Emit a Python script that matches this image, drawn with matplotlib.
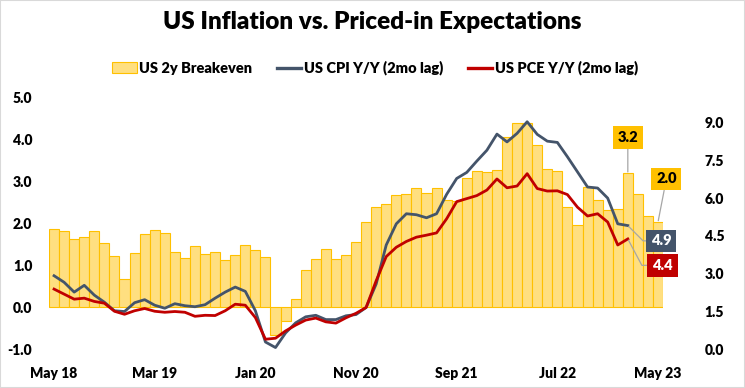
import matplotlib
matplotlib.use("Agg")
import matplotlib.pyplot as plt
from matplotlib.patches import Patch, Rectangle
from matplotlib.lines import Line2D
import numpy as np

plt.rcParams['font.family'] = ['Lato', 'DejaVu Sans']
plt.rcParams['font.weight'] = 'bold'

# ---- data ----
tick_labels = ["May 18", "Mar 19", "Jan 20", "Nov 20", "Sep 21", "Jul 22", "May 23"]
tick_index = [0, 10, 20, 30, 40, 50, 60]

breakeven = [1.86, 1.81, 1.62, 1.67, 1.81, 1.52, 1.21, 0.67, 1.29, 1.74,
             1.83, 1.76, 1.31, 1.17, 1.45, 1.26, 1.31, 1.12, 1.24, 1.48,
             1.36, 1.19, -0.67, -0.33, 0.19, 0.88, 1.14, 1.40, 1.14, 1.24,
             1.55, 2.02, 2.40, 2.45, 2.67, 2.69, 2.83, 2.71, 2.83, 2.55,
             2.52, 3.07, 3.24, 3.21, 3.26, 4.05, 4.40, 4.40, 3.86, 3.29,
             3.24, 2.40, 1.97, 2.86, 2.55, 2.31, 2.33, 3.19, 2.69, 2.17,
             2.03]

cpi = [2.92, 2.66, 2.27, 2.54, 2.15, 1.87, 1.53, 1.50, 1.85, 1.97,
       1.75, 1.63, 1.81, 1.73, 1.69, 1.77, 2.03, 2.27, 2.47, 2.30,
       1.53, 0.29, 0.07, 0.65, 1.05, 1.29, 1.35, 1.18, 1.18, 1.33,
       1.38, 1.66, 2.59, 4.14, 4.98, 5.38, 5.34, 5.22, 5.38, 6.15,
       6.78, 7.02, 7.47, 7.90, 8.54, 8.23, 8.57, 9.03, 8.53, 8.26,
       8.21, 7.64, 7.04, 6.44, 6.40, 6.00, 4.98, 4.91]

pce = [2.39, 2.19, 1.99, 2.03, 1.90, 1.83, 1.51, 1.39, 1.53, 1.62,
       1.51, 1.47, 1.50, 1.47, 1.31, 1.35, 1.34, 1.53, 1.79, 1.75,
       1.26, 0.40, 0.44, 0.73, 0.96, 1.16, 1.24, 1.09, 1.04, 1.25,
       1.43, 1.66, 2.72, 3.68, 4.05, 4.28, 4.45, 4.53, 4.62, 5.18,
       5.86, 5.98, 6.10, 6.32, 6.76, 6.41, 6.48, 6.97, 6.38, 6.28,
       6.29, 6.14, 5.64, 5.29, 5.38, 5.05, 4.14, 4.38]

BAR_FILL = '#FFDF80'
BAR_EDGE = '#FFC000'
CPI_C = '#44546A'
PCE_C = '#C00000'

fig = plt.figure(figsize=(7.45, 3.88), dpi=100)
fig.patches.append(Rectangle((0, 0), 1, 1, transform=fig.transFigure,
                             fill=False, edgecolor='#D9D9D9', linewidth=1.5))

ax = fig.add_axes([0.0658, 0.0997, 0.8242, 0.6495])
ax2 = ax.twinx()

x_bars = np.arange(len(breakeven))
x_lines = np.arange(len(cpi))

ax.bar(x_bars, breakeven, width=1.0, color=BAR_FILL, edgecolor=BAR_EDGE,
       linewidth=0.8, zorder=2)
ax.set_xlim(-0.5, len(breakeven) - 0.5)
ax.set_ylim(-1.0, 5.0)
ax.set_yticks(np.arange(-1, 5.01, 1.0))
ax.set_yticklabels([f"{v:.1f}" for v in np.arange(-1, 5.01, 1.0)])
ax.set_xticks(tick_index)
ax.set_xticklabels(tick_labels)

ax2.plot(x_lines, cpi, color=CPI_C, linewidth=2.0, zorder=3)
ax2.plot(x_lines, pce, color=PCE_C, linewidth=2.0, zorder=3)
ax2.set_ylim(0, 10)
ax2.set_yticks(np.arange(0, 9.01, 1.5))
ax2.set_yticklabels([f"{v:.1f}" for v in np.arange(0, 9.01, 1.5)])

for a in (ax, ax2):
    for s in a.spines.values():
        s.set_visible(False)
    a.tick_params(length=0, labelsize=10)
ax.tick_params(axis='y', pad=12)
ax.tick_params(axis='x', pad=13)
ax2.tick_params(axis='y', pad=30)
for lab in ax.get_xticklabels() + ax.get_yticklabels() + ax2.get_yticklabels():
    lab.set_fontweight('heavy')

# callouts
lead = dict(arrowstyle='-', color='#A6A6A6', linewidth=0.9, shrinkA=0, shrinkB=1)
def box(fc):
    return dict(boxstyle='square,pad=0.33', fc=fc, ec='none')

i57 = 57
ax.annotate(f"{breakeven[i57]:.1f}", xy=(i57, breakeven[i57]), xytext=(0, 26),
            textcoords='offset points', ha='center', va='center', fontsize=10.5,
            fontweight='heavy', color='black', bbox=box(BAR_EDGE),
            arrowprops=dict(lead), zorder=5)
il = len(breakeven) - 1
ax.annotate(f"{breakeven[il]:.1f}", xy=(il, breakeven[il]), xytext=(6, 31),
            textcoords='offset points', ha='center', va='center', fontsize=10.5,
            fontweight='heavy', color='black', bbox=box(BAR_EDGE),
            arrowprops=dict(lead), zorder=5)
ic = len(cpi) - 1
ax2.annotate(f"{cpi[ic]:.1f}", xy=(ic, cpi[ic]), xytext=(24, -11),
             textcoords='offset points', ha='center', va='center', fontsize=10.5,
             fontweight='heavy', color='white', bbox=box(CPI_C),
             arrowprops=dict(lead, connectionstyle='angle,angleA=0,angleB=-45,rad=0'),
             zorder=5)
ax2.annotate(f"{pce[ic]:.1f}", xy=(ic, pce[ic]), xytext=(25, -19),
             textcoords='offset points', ha='center', va='center', fontsize=10.5,
             fontweight='heavy', color='white', bbox=box(PCE_C),
             arrowprops=dict(lead, connectionstyle='angle,angleA=0,angleB=-62,rad=0'),
             zorder=5)

fig.text(0.5, 0.943, "US Inflation vs. Priced-in Expectations", ha='center',
         va='center', fontsize=17.5, fontweight='heavy')

handles = [Patch(facecolor=BAR_FILL, edgecolor=BAR_EDGE, linewidth=0.8),
           Line2D([], [], color=CPI_C, linewidth=2.4),
           Line2D([], [], color=PCE_C, linewidth=2.4)]
labels = ["US 2y Breakeven", "US CPI Y/Y (2mo lag)", "US PCE Y/Y (2mo lag)"]
fig.legend(handles, labels, loc='center', bbox_to_anchor=(0.503, 0.825), ncol=3,
           frameon=False, prop=dict(size=10.5, weight='heavy'), handlelength=1.7,
           handletextpad=0.15, columnspacing=1.7)

fig.savefig("out.png", dpi=100)
